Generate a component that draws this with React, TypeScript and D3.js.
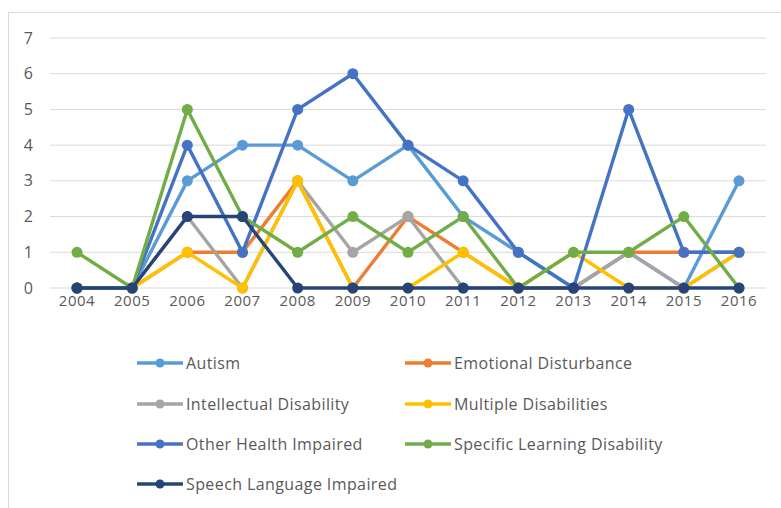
import React from "react";
import * as d3 from "d3";

// Annual counts by disability category, 2004–2016
const years = ["2004", "2005", "2006", "2007", "2008", "2009", "2010", "2011", "2012", "2013", "2014", "2015", "2016"];
const yTicks = [0, 1, 2, 3, 4, 5, 6, 7];

const autism = [0, 0, 3, 4, 4, 3, 4, 2, 1, 0, 1, 0, 3];
const emotional = [0, 0, 1, 1, 3, 0, 2, 1, 0, 0, 1, 1, 1];
const intellectual = [0, 0, 2, 0, 3, 1, 2, 0, 0, 0, 1, 0, 1];
const multiple = [0, 0, 1, 0, 3, 0, 0, 1, 0, 1, 0, 0, 1];
const otherHealth = [0, 0, 4, 1, 5, 6, 4, 3, 1, 0, 5, 1, 1];
const specificLearning = [1, 0, 5, 2, 1, 2, 1, 2, 0, 1, 1, 2, 0];
const speechLanguage = [0, 0, 2, 2, 0, 0, 0, 0, 0, 0, 0, 0, 0];

const seriesNames = [
  "Autism",
  "Emotional Disturbance",
  "Intellectual Disability",
  "Multiple Disabilities",
  "Other Health Impaired",
  "Specific Learning Disability",
  "Speech Language Impaired",
];
const seriesValues = [autism, emotional, intellectual, multiple, otherHealth, specificLearning, speechLanguage];
const seriesColors = ["#5B9BD5", "#ED7D31", "#A5A5A5", "#FFC000", "#4472C4", "#70AD47", "#264478"];

const W = 781;
const H = 508;
const FONT = "'Open Sans', 'Liberation Sans', sans-serif";

export default function App() {
  const x = d3.scalePoint<string>().domain(years).range([77, 739]);
  const y = d3.scaleLinear().domain([0, 7]).range([288, 38]);

  const line = d3
    .line<number>()
    .x((_, i) => x(years[i]) as number)
    .y((d) => y(d));

  const legendCols = [137, 405];
  const legendRowY = [363, 404, 444, 484];

  return (
    <svg
      width={W}
      height={H}
      style={{ position: "absolute", left: 0, top: 0, background: "#fff" }}
      fontFamily={FONT}
    >
      <rect x={8.5} y={12.5} width={W + 10} height={H + 10} fill="#fff" stroke="#d9d9d9" strokeWidth={1} />

      {/* horizontal gridlines and y tick labels */}
      {yTicks.map((t) => (
        <g key={t}>
          <line x1={50} x2={766} y1={y(t)} y2={y(t)} stroke="#d9d9d9" strokeWidth={1} />
          <text x={33} y={y(t)} dy="0.35em" textAnchor="end" fontSize={16} fill="#595959">
            {t}
          </text>
        </g>
      ))}

      {/* x tick labels */}
      {years.map((yr) => (
        <text key={yr} x={x(yr)} y={306} textAnchor="middle" fontSize={15} fill="#595959" letterSpacing={0.5}>
          {yr}
        </text>
      ))}

      {/* series lines and markers */}
      {seriesValues.map((vals, si) => (
        <g key={seriesNames[si]}>
          <path d={line(vals) || ""} fill="none" stroke={seriesColors[si]} strokeWidth={3.4} strokeLinejoin="round" />
          {vals.map((v, i) => (
            <circle key={i} cx={x(years[i])} cy={y(v)} r={5.5} fill={seriesColors[si]} />
          ))}
        </g>
      ))}

      {/* legend */}
      {seriesNames.map((name, si) => {
        const lx = legendCols[si % 2];
        const ly = legendRowY[Math.floor(si / 2)];
        return (
          <g key={name} transform={`translate(${lx},${ly})`}>
            <line x1={0} x2={46} y1={0} y2={0} stroke={seriesColors[si]} strokeWidth={3.4} />
            <circle cx={23} cy={0} r={4.5} fill={seriesColors[si]} />
            <text x={49} y={0} dy="0.35em" fontSize={16} fill="#595959" letterSpacing={0.4}>
              {name}
            </text>
          </g>
        );
      })}
    </svg>
  );
}
